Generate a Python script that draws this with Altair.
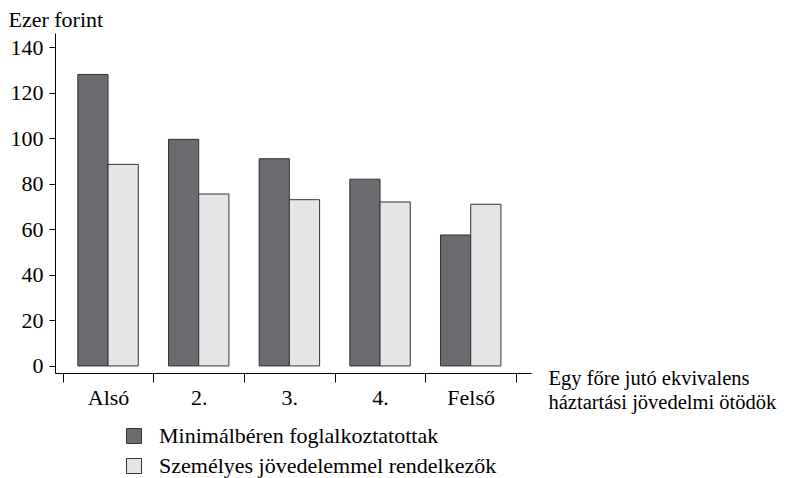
import altair as alt
import pandas as pd

cats = ["Alsó", "2.", "3.", "4.", "Felső"]
series = ["Minimálbéren foglalkoztatottak", "Személyes jövedelemmel rendelkezők"]
min_wage = [128, 99.5, 91, 82, 57.5]
personal = [88.5, 75.5, 73, 72, 71]
y_ticks = [0, 20, 40, 60, 80, 100, 120, 140]

rows = []
for c, a, b in zip(cats, min_wage, personal):
    rows.append({"cat": c, "series": series[0], "value": a})
    rows.append({"cat": c, "series": series[1], "value": b})
df = pd.DataFrame(rows)

FONT = "Liberation Serif"
FS = 22

chart = alt.Chart(df).mark_bar(stroke="#333333", strokeWidth=1).encode(
    x=alt.X(
        "cat:N", sort=cats,
        scale=alt.Scale(paddingInner=0, paddingOuter=0.125, align=0.34),
        axis=alt.Axis(
            title=["Egy főre jutó ekvivalens", "háztartási jövedelmi ötödök"],
            labelAngle=0, tickBand="extent", tickSize=9, labelPadding=5,
            titleX=493, titleY=11, titleAlign="left", titleBaseline="alphabetic",
            titleAngle=0, titleLineHeight=24, titleFontWeight="normal",
            titleFontSize=20.5,
        ),
    ),
    xOffset=alt.XOffset("series:N", sort=series,
                        scale=alt.Scale(paddingInner=0, paddingOuter=0.5)),
    y=alt.Y(
        "value:Q", stack=None,
        scale=alt.Scale(domain=[-3.1, 146.2], nice=False, zero=False),
        axis=alt.Axis(
            values=y_ticks, title="Ezer forint", titleAngle=0, titleX=-47, titleY=-7,
            titleAlign="left", titleBaseline="alphabetic", titleFontWeight="normal",
            tickSize=6, grid=False, labelPadding=6,
        ),
    ),
    y2=alt.datum(0),
    color=alt.Color(
        "series:N", sort=series,
        scale=alt.Scale(domain=series, range=["#6a6b6f", "#e4e5e7"]),
        legend=alt.Legend(
            title=None, orient="none", legendX=68, legendY=392,
            symbolType="square", symbolSize=225, symbolStrokeColor="#333333",
            symbolStrokeWidth=1, labelFont=FONT, labelFontSize=FS, labelColor="black",
            rowPadding=8, labelOffset=14, labelLimit=0,
        ),
    ),
).properties(
    width=476, height=340,
    autosize=alt.AutoSizeParams(type="none"),
    padding={"left": 47, "top": 25, "right": 250, "bottom": 105},
).configure_view(stroke=None).configure_axis(
    labelFont=FONT, titleFont=FONT, labelFontSize=FS, titleFontSize=FS,
    labelColor="black", titleColor="black", domainColor="black", tickColor="black",
    domainWidth=1, tickWidth=1,
)

chart.save("out.html", embed_options={"renderer": "svg", "actions": False})
